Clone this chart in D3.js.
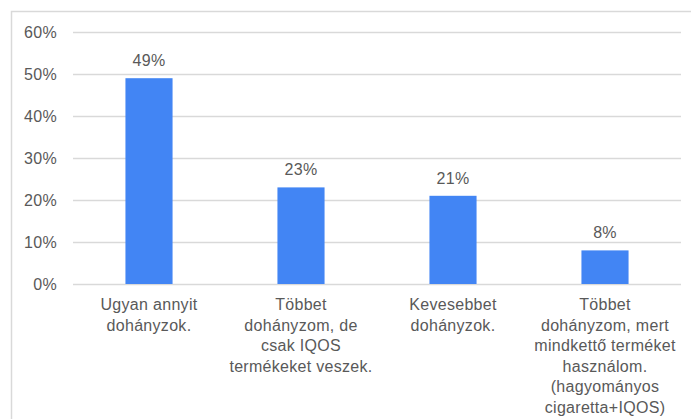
<!DOCTYPE html>
<html>
<head>
<meta charset="utf-8">
<script src="https://cdn.jsdelivr.net/npm/d3@7"></script>
<style>
  body { margin: 0; background: #fff; }
  svg text { font-family: "Liberation Sans", Arial, sans-serif; fill: #595959; letter-spacing: 0.3px; }
</style>
</head>
<body>
<div id="mainDiv"></div>
<script>
'use strict';

// kategóriák (sorokra tördelve, ahogy a képen)
var categories = [
  ['Ugyan annyit', 'dohányzok.'],
  ['Többet', 'dohányzom, de', 'csak IQOS', 'termékeket veszek.'],
  ['Kevesebbet', 'dohányzok.'],
  ['Többet', 'dohányzom, mert', 'mindkettő terméket', 'használom.', '(hagyományos', 'cigaretta+IQOS)']
];
var values = [0.49, 0.23, 0.21, 0.08];
var yTicks = [0, 0.1, 0.2, 0.3, 0.4, 0.5, 0.6];

var chart = {};
chart.w = 691;
chart.h = 419;
chart.margins = {top: 32, left: 73, right: 10, bottom: 135};
chart.color = '#4285f4';
chart.grid = '#d9d9d9';

chart.run = function()
{
    var svg = d3.select('#mainDiv').append('svg')
        .attr('width', chart.w)
        .attr('height', chart.h);

    // moldura (cortada à direita e embaixo)
    svg.append('rect')
        .attr('x', 11.5).attr('y', 11.5)
        .attr('width', chart.w + 20).attr('height', chart.h + 20)
        .attr('fill', 'none')
        .attr('stroke', chart.grid)
        .attr('stroke-width', 1.5);

    var iw = chart.w - chart.margins.left - chart.margins.right;
    var ih = chart.h - chart.margins.top - chart.margins.bottom;

    var x = d3.scaleBand().domain(d3.range(values.length)).range([0, iw])
        .paddingInner(0.69).paddingOuter(0.345);
    var y = d3.scaleLinear().domain([0, 0.6]).range([ih, 0]);

    var g = svg.append('g')
        .attr('transform', 'translate(' + chart.margins.left + ',' + chart.margins.top + ')');

    var yAxis = d3.axisLeft(y).tickValues(yTicks).tickFormat(d3.format('.0%'))
        .tickSize(-iw).tickPadding(16);
    var yg = g.append('g').call(yAxis);
    yg.select('.domain').remove();
    yg.selectAll('line').attr('stroke', chart.grid).attr('stroke-width', 1.3);
    yg.selectAll('text').attr('fill', '#595959').style('font-size', '16px');

    g.selectAll('rect.bar')
        .data(values)
        .enter()
        .append('rect')
        .attr('class', 'bar')
        .attr('x', function(d, i) { return x(i); })
        .attr('y', function(d) { return y(d); })
        .attr('width', x.bandwidth())
        .attr('height', function(d) { return ih - y(d); })
        .attr('fill', chart.color);

    g.selectAll('text.val')
        .data(values)
        .enter()
        .append('text')
        .attr('class', 'val')
        .attr('x', function(d, i) { return x(i) + x.bandwidth() / 2; })
        .attr('y', function(d) { return y(d) - 12; })
        .attr('text-anchor', 'middle')
        .style('font-size', '16px')
        .text(function(d) { return Math.round(d * 100) + '%'; });

    var labels = g.selectAll('text.cat')
        .data(categories)
        .enter()
        .append('text')
        .attr('class', 'cat')
        .attr('text-anchor', 'middle')
        .attr('transform', function(d, i) { return 'translate(' + (x(i) + x.bandwidth() / 2) + ',' + (ih + 26) + ')'; })
        .style('font-size', '16px');

    labels.selectAll('tspan')
        .data(function(d) { return d; })
        .enter()
        .append('tspan')
        .attr('x', 0)
        .attr('y', function(d, i) { return i * 20.5; })
        .text(function(d) { return d; });
};

window.onload = chart.run;
</script>
</body>
</html>
